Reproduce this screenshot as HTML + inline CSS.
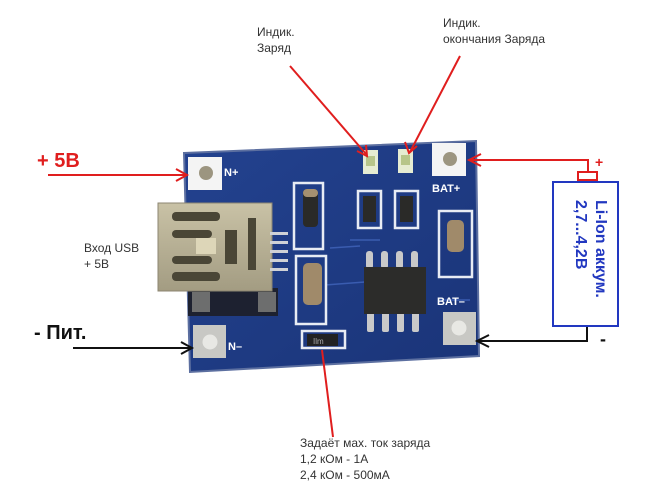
<!DOCTYPE html>
<html><head><meta charset="utf-8"><style>
html,body{margin:0;padding:0;background:#fff;width:650px;height:488px;overflow:hidden}
svg{display:block}
.t{font-family:"Liberation Sans","DejaVu Sans",sans-serif}
</style></head><body>
<svg width="650" height="488" viewBox="0 0 650 488" xmlns="http://www.w3.org/2000/svg">
<defs>
<linearGradient id="pcb" x1="0" y1="0" x2="1" y2="1">
<stop offset="0" stop-color="#23428f"/><stop offset="1" stop-color="#1a3478"/></linearGradient>
<linearGradient id="usb" x1="0" y1="0" x2="0" y2="1">
<stop offset="0" stop-color="#c9c2a6"/><stop offset="1" stop-color="#a39c82"/></linearGradient>
</defs>
<!-- board -->
<polygon points="184,153 476,141 479,356 190,372" fill="url(#pcb)" stroke="#5c6fa0" stroke-width="2"/>
<!-- traces -->
<g stroke="#3a5cb0" stroke-width="1.5" fill="none">
<line x1="330" y1="248" x2="360" y2="246"/><line x1="325" y1="285" x2="365" y2="282"/>
<line x1="350" y1="240" x2="380" y2="240"/><line x1="440" y1="300" x2="470" y2="300"/>
</g>
<!-- pads -->
<rect x="188" y="157" width="34" height="33" fill="#f4f4f4"/><circle cx="206" cy="173" r="7" fill="#9c9580"/>
<rect x="432" y="143" width="34" height="33" fill="#f4f4f4"/><circle cx="450" cy="159" r="7" fill="#9c9580"/>
<rect x="193" y="325" width="33" height="33" fill="#c8c8c4"/><circle cx="210" cy="342" r="7.5" fill="#e8e8e4"/>
<rect x="443" y="312" width="33" height="33" fill="#c8c8c4"/><circle cx="459" cy="328" r="7.5" fill="#e8e8e4"/>
<g class="t" fill="#fff" font-weight="bold" font-size="11">
<text x="224" y="176">N+</text><text x="432" y="192">BAT+</text>
<text x="437" y="305">BAT–</text><text x="228" y="350">N–</text></g>
<!-- USB dark part -->
<rect x="188" y="288" width="90" height="28" fill="#1d2130"/>
<rect x="192" y="292" width="18" height="20" fill="#6d6e6e"/><rect x="258" y="292" width="18" height="20" fill="#6d6e6e"/>
<!-- USB -->
<rect x="158" y="203" width="114" height="88" fill="url(#usb)" stroke="#8c8672"/>
<g fill="#4a4636">
<rect x="172" y="212" width="48" height="9" rx="4"/><rect x="172" y="230" width="40" height="8" rx="4"/>
<rect x="172" y="256" width="40" height="8" rx="4"/><rect x="172" y="272" width="48" height="9" rx="4"/>
<rect x="225" y="230" width="12" height="34"/><rect x="248" y="218" width="8" height="52"/>
</g>
<rect x="196" y="238" width="20" height="16" fill="#ddd6b8"/>
<g fill="#cfd1d6"><rect x="270" y="232" width="18" height="3"/><rect x="270" y="241" width="18" height="3"/><rect x="270" y="250" width="18" height="3"/><rect x="270" y="259" width="18" height="3"/><rect x="270" y="268" width="18" height="3"/></g>
<!-- component outlines -->
<g fill="none" stroke="#e8ecf4" stroke-width="2.5">
<rect x="294" y="183" width="29" height="66"/><rect x="296" y="256" width="30" height="68"/>
<rect x="439" y="211" width="33" height="66"/><rect x="358" y="191" width="23" height="37"/>
<rect x="395" y="191" width="23" height="37"/><rect x="302" y="331" width="43" height="17"/>
</g>
<rect x="303" y="189" width="15" height="38" rx="4" fill="#2a2a28"/><rect x="303" y="189" width="15" height="8" rx="4" fill="#a59070"/>
<rect x="303" y="263" width="19" height="42" rx="5" fill="#a08a6a"/>
<rect x="447" y="220" width="17" height="32" rx="5" fill="#a08a6a"/>
<rect x="363" y="196" width="13" height="26" fill="#2a2a28"/><rect x="400" y="196" width="13" height="26" fill="#2a2a28"/>
<rect x="307" y="334" width="31" height="12" fill="#222"/>
<text class="t" x="313" y="344" font-size="8" fill="#aaa">Ilm</text>
<!-- LEDs -->
<rect x="363" y="150" width="15" height="24" fill="#e6ecd2"/><rect x="366" y="156" width="9" height="10" fill="#b7c58a"/>
<rect x="398" y="149" width="15" height="24" fill="#e6ecd2"/><rect x="401" y="155" width="9" height="10" fill="#b7c58a"/>
<!-- IC -->
<g fill="#c9c9c9"><rect x="366" y="251" width="7" height="18" rx="3"/><rect x="381" y="251" width="7" height="18" rx="3"/><rect x="396" y="251" width="7" height="18" rx="3"/><rect x="411" y="251" width="7" height="18" rx="3"/>
<rect x="367" y="312" width="7" height="20" rx="2"/><rect x="382" y="312" width="7" height="20" rx="2"/><rect x="397" y="312" width="7" height="20" rx="2"/><rect x="412" y="312" width="7" height="20" rx="2"/></g>
<rect x="364" y="267" width="62" height="47" fill="#2c2c2a"/>
<!-- arrows red -->
<g stroke="#e01e1e" stroke-width="2" fill="none">
<line x1="48" y1="175" x2="186" y2="175"/><polyline points="176,169 187,175 176,181"/>
<line x1="290" y1="66" x2="366" y2="154"/><polyline points="357,151 367,156 366,145"/>
<line x1="460" y1="56" x2="410" y2="152"/><polyline points="405,142 409,153 417,146"/>
<polyline points="470,160 588,160 588,173"/><polyline points="481,154 469,160 481,166"/>
<line x1="333" y1="437" x2="322" y2="350"/>
</g>
<rect x="578" y="172" width="19" height="8" fill="none" stroke="#e01e1e" stroke-width="2"/>
<!-- black arrows -->
<g stroke="#111" stroke-width="2" fill="none">
<line x1="73" y1="348" x2="191" y2="348"/><polyline points="181,342 192,348 181,354"/>
<polyline points="587,325 587,341 478,341"/><polyline points="489,335 477,341 489,347"/>
</g>
<!-- battery -->
<rect x="553" y="182" width="65" height="144" fill="#fff" stroke="#2238c0" stroke-width="2"/>
<g class="t" fill="#2238c0" font-weight="bold" font-size="16" transform="translate(596,200) rotate(90)">
<text x="0" y="0">Li-Ion аккум.</text><text x="0" y="20">2,7...4,2В</text></g>
<!-- labels -->
<g class="t">
<text x="37" y="167" font-size="20" font-weight="bold" fill="#e01e1e">+ 5В</text>
<text x="595" y="167" font-size="14" font-weight="bold" fill="#e01e1e">+</text>
<text x="600" y="345" font-size="18" font-weight="bold" fill="#111">-</text>
<text x="34" y="339" font-size="20" font-weight="bold" fill="#111">- Пит.</text>
<g font-size="12" fill="#333">
<text x="257" y="36">Индик.</text><text x="257" y="52">Заряд</text>
<text x="443" y="27">Индик.</text><text x="443" y="43">окончания Заряда</text>
<text x="84" y="252">Вход USB</text><text x="84" y="268">+ 5В</text>
<text x="300" y="447">Задаёт мах. ток заряда</text>
<text x="300" y="463">1,2 кОм - 1А</text>
<text x="300" y="479">2,4 кОм - 500мА</text>
</g></g>
</svg>
</body></html>
